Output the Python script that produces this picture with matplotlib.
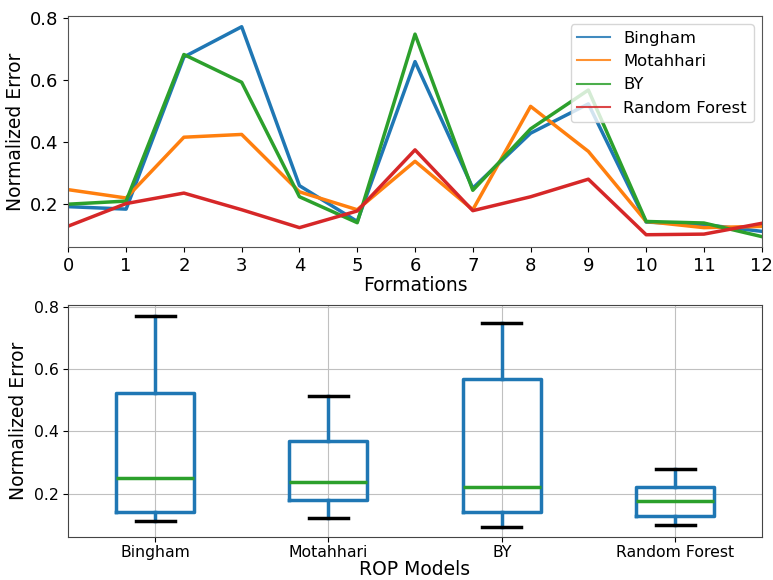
import numpy as np
import pandas as pd
import matplotlib
matplotlib.use("Agg")
import matplotlib.pyplot as plt

# Normalized error per formation.
formations = list(range(13))
models = ["Bingham", "Motahhari", "BY", "Random Forest"]
bingham = [0.19, 0.182, 0.675, 0.773, 0.258, 0.142, 0.66, 0.25, 0.428,
    0.523, 0.14, 0.132, 0.11]
motahhari = [0.245, 0.218, 0.415, 0.424, 0.238, 0.18, 0.337, 0.18, 0.515,
    0.369, 0.142, 0.122, 0.126]
by = [0.198, 0.208, 0.683, 0.593, 0.222, 0.138, 0.749, 0.243, 0.442,
    0.568, 0.142, 0.137, 0.093]
random_forest = [0.127, 0.2, 0.234, 0.18, 0.122, 0.176, 0.374, 0.177,
    0.222, 0.279, 0.099, 0.101, 0.136]

data = pd.DataFrame({"Bingham": bingham, "Motahhari": motahhari,
    "BY": by, "Random Forest": random_forest}, index=formations)

fig = plt.figure(figsize=(7.73, 5.8), dpi=100)

# --------------------------------------------------------------------------
# ---- Line plot. ----------------------------------------------------------
# --------------------------------------------------------------------------

ax1 = fig.add_axes([0.0884, 0.574, 0.897, 0.398])
for model in models:
    ax1.plot(data.index, data[model], linewidth=2.5, label=model)
ax1.set_xlim(0, 12)
ax1.set_xticks(formations)
ax1.tick_params(labelsize=13)
ax1.set_xlabel("Formations", fontsize=13.5, labelpad=1)
ax1.set_ylabel("Normalized Error", fontsize=13.5)
leg = ax1.legend(loc="upper right", fontsize=11.8)
for line in leg.get_lines():
    line.set_linewidth(1.5)
    line.set_alpha(0.85)
for spine in ax1.spines.values():
    spine.set_color("#555555")

# --------------------------------------------------------------------------
# ---- Box plot. -----------------------------------------------------------
# --------------------------------------------------------------------------

ax2 = fig.add_axes([0.0884, 0.0736, 0.897, 0.4005])
ax2.boxplot([data[m] for m in models], showfliers=False,
    boxprops=dict(color="C0", linewidth=2.5),
    whiskerprops=dict(color="C0", linewidth=2.5),
    capprops=dict(color="k", linewidth=2.5),
    medianprops=dict(color="C2", linewidth=2.5))
ax2.set_xticks(range(1, len(models) + 1))
ax2.set_xticklabels(models)
ax2.grid(True, color="#c0c0c0", linewidth=0.8)
ax2.set_axisbelow(True)
ax2.tick_params(labelsize=11.3)
ax2.tick_params(axis="x", pad=2)
ax2.set_xlabel("ROP Models", fontsize=13.5, labelpad=0)
ax2.set_ylabel("Normalized Error", fontsize=13.5)
for spine in ax2.spines.values():
    spine.set_color("#444444")

fig.savefig("out.png", dpi=100)
